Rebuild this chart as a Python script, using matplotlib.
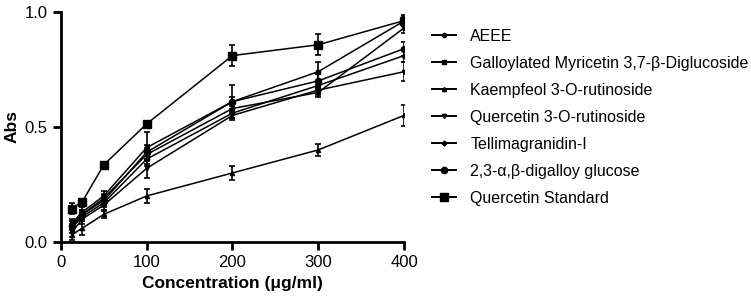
import matplotlib.pyplot as plt
from matplotlib.lines import Line2D

plt.rcParams['font.family'] = ['Liberation Sans', 'DejaVu Sans']

conc = [12.5, 25, 50, 100, 200, 300, 400]

labels = ['AEEE',
          'Galloylated Myricetin 3,7-\u03b2-Diglucoside',
          'Kaempfeol 3-O-rutinoside',
          'Quercetin 3-O-rutinoside',
          'Tellimagranidin-I',
          '2,3-\u03b1,\u03b2-digalloy glucose',
          'Quercetin Standard']

aeee = [0.07, 0.12, 0.19, 0.38, 0.58, 0.65, 0.93]
aeee_err = [0.02, 0.02, 0.02, 0.03, 0.02, 0.02, 0.02]
gallo = [0.08, 0.13, 0.20, 0.41, 0.61, 0.74, 0.96]
gallo_err = [0.02, 0.02, 0.02, 0.07, 0.07, 0.04, 0.02]
kaemp = [0.03, 0.06, 0.12, 0.20, 0.30, 0.40, 0.55]
kaemp_err = [0.02, 0.03, 0.015, 0.03, 0.03, 0.025, 0.045]
querc_rut = [0.04, 0.10, 0.16, 0.32, 0.55, 0.66, 0.74]
querc_rut_err = [0.02, 0.02, 0.02, 0.04, 0.02, 0.02, 0.04]
tellima = [0.06, 0.11, 0.17, 0.36, 0.56, 0.68, 0.81]
tellima_err = [0.02, 0.02, 0.02, 0.03, 0.02, 0.02, 0.03]
digalloy = [0.07, 0.12, 0.18, 0.39, 0.61, 0.70, 0.84]
digalloy_err = [0.02, 0.02, 0.02, 0.03, 0.02, 0.03, 0.03]
q_std = [0.145, 0.175, 0.335, 0.513, 0.81, 0.857, 0.962]
q_std_err = [0.025, 0.01, 0.01, 0.01, 0.045, 0.045, 0.025]

series = [aeee, gallo, kaemp, querc_rut, tellima, digalloy, q_std]
errors = [aeee_err, gallo_err, kaemp_err, querc_rut_err, tellima_err, digalloy_err, q_std_err]
markers = ['o', 's', '^', 'v', 'D', 'o', 's']
msizes = [3, 3.5, 3, 3, 2.5, 4.5, 5.5]

fig = plt.figure(figsize=(7.51, 3.04), dpi=100)
ax = fig.add_axes([0.081, 0.204, 0.457, 0.757])

handles = []
for y, e, m, ms, lab in zip(series, errors, markers, msizes, labels):
    ax.errorbar(conc, y, yerr=e, color='black', marker=m, markersize=ms,
                linewidth=1.1, elinewidth=1.2, capsize=2.5, capthick=1.2)
    handles.append(Line2D([], [], color='black', marker=m, markersize=ms,
                          linewidth=1.4, label=lab))

ax.set_xlim(0, 400)
ax.set_ylim(0, 1.0)
ax.set_xticks([0, 100, 200, 300, 400])
ax.set_yticks([0.0, 0.5, 1.0])
ax.set_yticklabels(['0.0', '0.5', '1.0'])
ax.tick_params(width=2, length=6, labelsize=12)
for s in ['top', 'right']:
    ax.spines[s].set_visible(False)
for s in ['left', 'bottom']:
    ax.spines[s].set_linewidth(2)

ax.set_xlabel('Concentration (\u03bcg/ml)', fontsize=12.5, fontweight='bold')
ax.set_ylabel('Abs', fontsize=12.5, fontweight='bold')

fig.legend(handles=handles, loc='upper left', bbox_to_anchor=(0.575, 0.905),
           frameon=False, fontsize=11.5, handlelength=1.5, labelspacing=0.75,
           handletextpad=0.9, borderpad=0, borderaxespad=0)

fig.savefig('out.png', dpi=100)
